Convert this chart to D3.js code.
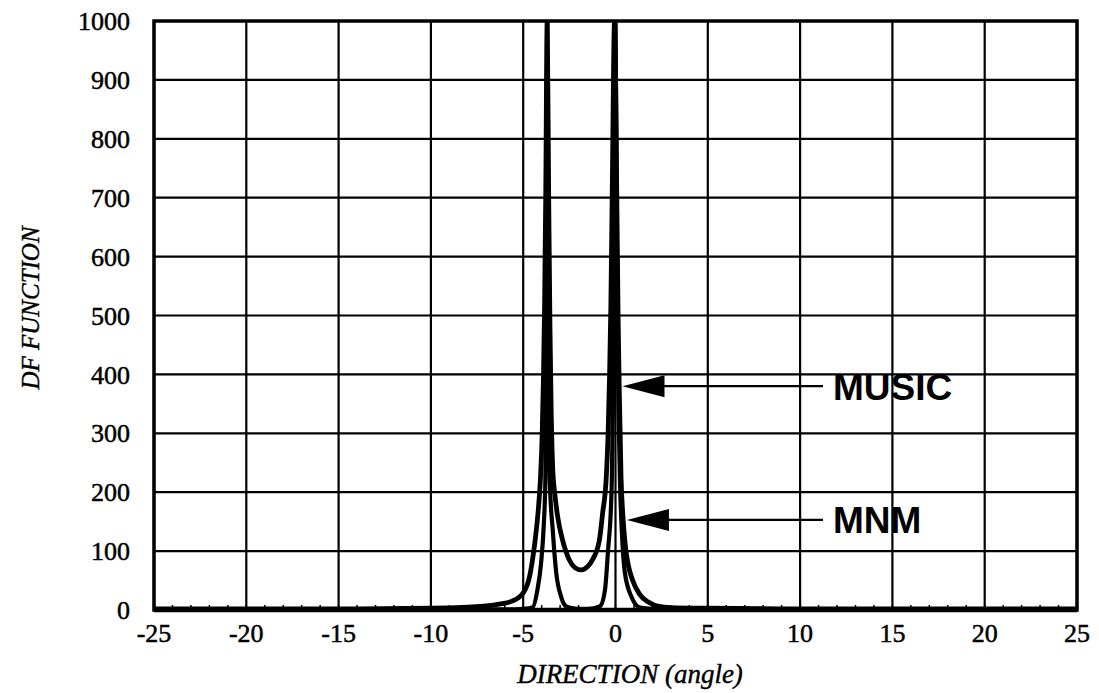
<!DOCTYPE html>
<html>
<head>
<meta charset="utf-8">
<script src="https://cdn.jsdelivr.net/npm/d3@7"></script>
<style>
  html, body { margin: 0; padding: 0; background: #fff; }
  svg { display: block; }
</style>
</head>
<body>
<svg id="chart" width="1099" height="693"></svg>
<script>
// Axis ticks
const xTicks = [-25, -20, -15, -10, -5, 0, 5, 10, 15, 20, 25];
const xTickLabels = ["-25", "-20", "-15", "-10", "-5", "0", "5", "10", "15", "20", "25"];
const yTicks = [0, 100, 200, 300, 400, 500, 600, 700, 800, 900, 1000];
const yTickLabels = ["0", "100", "200", "300", "400", "500", "600", "700", "800", "900", "1000"];

// MUSIC spectrum: direction (deg) and DF value
const musicAngle = [-25, -20, -15, -10, -8, -7, -6.3, -5.6, -5.0, -4.66, -4.4, -4.2, -4.07, -3.97, -3.9, -3.84, -3.78, -3.7,
  -3.62, -3.55, -3.48, -3.4, -3.28, -3.14, -2.87, -2.5, -2.2, -1.86, -1.5, -1.25, -0.87, -0.7, -0.5, -0.4, -0.32, -0.25, -0.18, -0.05,
  0.07, 0.14, 0.2, 0.3, 0.4, 0.54, 0.7, 0.92, 1.3, 1.8, 2.35, 3, 5, 10, 15, 20, 25];
const musicValue = [2, 2, 2, 3, 5, 7, 10, 15, 29, 56, 107, 164, 220, 300, 400, 520, 700, 1000,
  700, 480, 330, 240, 195, 160, 119, 85, 72, 68, 74, 85, 119, 164, 225, 300, 400, 520, 700, 1000,
  700, 500, 380, 225, 160, 107, 75, 51, 27, 13, 6, 4, 3, 2, 2, 2, 2];

// MNM spectrum: direction (deg) and DF value
const mnmAngle = [-25, -15, -10, -6, -5, -4.5, -4.23, -4.03, -3.9, -3.8, -3.76, -3.73, -3.7, -3.64, -3.6, -3.56, -3.4, -3.21,
  -2.94, -2.67, -2.3, -1.8, -1.2, -0.84, -0.57, -0.39, -0.26, -0.2, -0.14, -0.08, 0, 0.09, 0.16, 0.24, 0.34, 0.51, 0.87, 1.33, 2, 5, 10, 25];
const mnmValue = [1, 1, 1, 1, 2, 4, 34, 80, 136, 220, 350, 550, 1000, 550, 350, 220, 136, 63,
  22, 6, 3, 2, 3, 6, 34, 107, 164, 220, 350, 550, 1000, 550, 350, 220, 136, 63, 22, 4, 2, 1, 1, 1];

// Callouts: label, pointed-at DF value, arrow tip direction
const calloutLabels = ["MUSIC", "MNM"];
const calloutValues = [380, 153];
const calloutTips = [0.38, 0.62];

const svg = d3.select("#chart");
const plotLeft = 154, plotRight = 1077, plotTop = 21, plotBottom = 610;

const x = d3.scaleLinear().domain([-25, 25]).range([plotLeft, plotRight]);
const y = d3.scaleLinear().domain([0, 1000]).range([plotBottom, plotTop]);

// Grid
svg.append("g").selectAll("line").data(xTicks).join("line")
  .attr("x1", d => x(d)).attr("x2", d => x(d))
  .attr("y1", plotTop).attr("y2", plotBottom)
  .attr("stroke", "#000").attr("stroke-width", 2.2);
svg.append("g").selectAll("line").data(yTicks).join("line")
  .attr("x1", plotLeft).attr("x2", plotRight)
  .attr("y1", d => y(d)).attr("y2", d => y(d))
  .attr("stroke", "#000").attr("stroke-width", 2.2);

// Minor ticks along the bottom axis, one per degree
svg.append("g").selectAll("line").data(d3.range(-24, 25)).join("line")
  .attr("x1", d => x(d)).attr("x2", d => x(d))
  .attr("y1", plotBottom).attr("y2", plotBottom - 5)
  .attr("stroke", "#000").attr("stroke-width", 1.5);

// Curves
svg.append("defs").append("clipPath").attr("id", "plotClip")
  .append("rect").attr("x", plotLeft).attr("y", plotTop)
  .attr("width", plotRight - plotLeft).attr("height", plotBottom - plotTop);

const line = d3.line().x(d => x(d[0])).y(d => y(d[1])).curve(d3.curveMonotoneX);
const curves = svg.append("g").attr("clip-path", "url(#plotClip)");
curves.append("path").datum(d3.zip(musicAngle, musicValue))
  .attr("d", line).attr("fill", "none").attr("stroke", "#000").attr("stroke-width", 4.8)
  .attr("stroke-linejoin", "round");
curves.append("path").datum(d3.zip(mnmAngle, mnmValue))
  .attr("d", line).attr("fill", "none").attr("stroke", "#000").attr("stroke-width", 4.2)
  .attr("stroke-linejoin", "round");

// Frame
svg.append("rect").attr("x", plotLeft).attr("y", plotTop)
  .attr("width", plotRight - plotLeft).attr("height", plotBottom - plotTop)
  .attr("fill", "none").attr("stroke", "#000").attr("stroke-width", 3.5);
svg.append("line").attr("x1", plotLeft).attr("x2", plotRight).attr("y1", plotBottom).attr("y2", plotBottom)
  .attr("stroke", "#000").attr("stroke-width", 4.5);

// Tick labels
const serif = "Liberation Serif, Times New Roman, serif";
svg.append("g").selectAll("text").data(xTicks).join("text")
  .attr("x", d => x(d)).attr("y", 642)
  .attr("text-anchor", "middle")
  .attr("font-family", serif).attr("font-size", 26)
  .attr("stroke", "#000").attr("stroke-width", 0.5)
  .text((d, i) => xTickLabels[i]);
svg.append("g").selectAll("text").data(yTicks).join("text")
  .attr("x", 130).attr("y", d => y(d)).attr("dy", "0.35em")
  .attr("text-anchor", "end")
  .attr("font-family", serif).attr("font-size", 26)
  .attr("stroke", "#000").attr("stroke-width", 0.5)
  .text((d, i) => yTickLabels[i]);

// Axis titles
svg.append("text").attr("x", 630).attr("y", 683).attr("text-anchor", "middle")
  .attr("font-family", serif).attr("font-style", "italic").attr("font-size", 27)
  .attr("stroke", "#000").attr("stroke-width", 0.4)
  .text("DIRECTION (angle)");
svg.append("text").attr("transform", "translate(39,308) rotate(-90)").attr("text-anchor", "middle")
  .attr("font-family", serif).attr("font-style", "italic").attr("font-size", 25)
  .attr("stroke", "#000").attr("stroke-width", 0.4)
  .text("DF FUNCTION");

// Callout arrows and labels
const lineEnd = 823, headLen = 42, headHalf = 11;
calloutLabels.forEach((label, i) => {
  const tx = x(calloutTips[i]);
  const ty = y(calloutValues[i]);
  svg.append("line").attr("x1", tx + headLen - 2).attr("x2", lineEnd).attr("y1", ty).attr("y2", ty)
    .attr("stroke", "#000").attr("stroke-width", 2.2);
  svg.append("path")
    .attr("d", `M${tx},${ty}L${tx + headLen},${ty - headHalf}L${tx + headLen},${ty + headHalf}Z`)
    .attr("fill", "#000");
  svg.append("text").attr("x", 833).attr("y", ty).attr("dy", "0.36em")
    .attr("font-family", "Liberation Sans, Arial, Helvetica, sans-serif").attr("font-weight", "bold").attr("font-size", 37)
    .text(label);
});
</script>
</body>
</html>
